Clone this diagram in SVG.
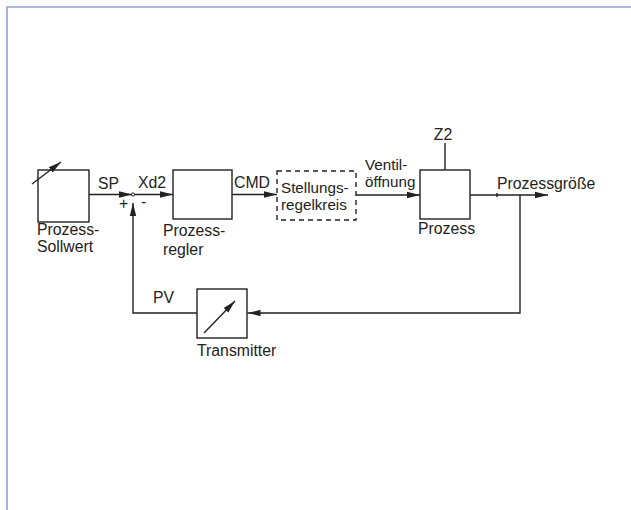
<svg xmlns="http://www.w3.org/2000/svg" width="631" height="510" viewBox="0 0 631 510">
<style>
.frame{fill:none;stroke:#8fa5cd;stroke-width:1.6}
.box{fill:none;stroke:#222;stroke-width:1.4}
.dash{fill:none;stroke:#222;stroke-width:1.4;stroke-dasharray:5,4}
.ln{fill:none;stroke:#222;stroke-width:1.4}
.arr{fill:none;stroke:#222;stroke-width:1.4;marker-end:url(#ah)}
text{font-family:"Liberation Sans",Arial,sans-serif;font-size:15.8px;fill:#222}
.tight{font-size:15.2px}
</style>
<defs>
<marker id="ah" markerUnits="userSpaceOnUse" markerWidth="14" markerHeight="8" refX="13" refY="4" orient="auto">
<path d="M0,0.8 L13,4 L0,7.2 Z" fill="#222"/>
</marker>
</defs>
<rect width="631" height="510" fill="#fff"/>
<path class="frame" d="M7,510 V7 H631"/>

<g id="sollwert">
<rect class="box" x="38" y="170" width="51" height="52"/>
<line class="arr" x1="32" y1="184" x2="61" y2="162"/>
<text x="37" y="235">Prozess-</text>
<text x="37" y="252">Sollwert</text>
</g>

<g id="summing">
<circle cx="133" cy="194.5" r="1.6" fill="#fff" stroke="#222" stroke-width="1"/>
<text x="119" y="209">+</text>
<text x="141" y="207">-</text>
</g>

<g id="prozessregler">
<rect class="box" x="173" y="170" width="59" height="49"/>
<text x="163" y="236">Prozess-</text>
<text x="163" y="255">regler</text>
</g>

<g id="stellungsregelkreis">
<rect class="dash" x="277" y="171" width="79" height="49"/>
<text class="tight" x="281" y="193">Stellungs-</text>
<text class="tight" x="281" y="210">regelkreis</text>
</g>

<g id="prozess">
<rect class="box" x="420" y="170" width="50" height="49"/>
<text x="418" y="234">Prozess</text>
</g>

<g id="transmitter">
<rect class="box" x="197" y="289" width="50" height="49"/>
<line class="arr" x1="204" y1="333" x2="235" y2="301"/>
<text x="197" y="356">Transmitter</text>
</g>

<g id="z2">
<text x="443" y="140" text-anchor="middle">Z2</text>
</g>

<g id="connectors">
<line class="arr" x1="89" y1="194.5" x2="132" y2="194.5"/>
<line class="arr" x1="134.5" y1="194.5" x2="173" y2="194.5"/>
<line class="arr" x1="232" y1="194.5" x2="277" y2="194.5"/>
<line class="arr" x1="356" y1="195" x2="420" y2="195"/>
<line class="ln" x1="445" y1="143" x2="445" y2="170"/>
<line class="arr" x1="470" y1="195" x2="548" y2="195"/>
<polyline class="ln" points="520,195 520,313 260,313"/>
<line class="arr" x1="260" y1="313" x2="247.5" y2="313"/>
<polyline class="ln" points="197,313 133,313 133,212"/>
<line class="arr" x1="133" y1="214" x2="133" y2="203"/>
<line class="ln" x1="497" y1="193" x2="497" y2="197" stroke-width="1"/>
<text x="98" y="189">SP</text>
<text x="138" y="188">Xd2</text>
<text x="234" y="188">CMD</text>
<text class="tight" x="365" y="170">Ventil-</text>
<text class="tight" x="365" y="187">öffnung</text>
<text x="497" y="189">Prozessgröße</text>
<text x="153" y="303">PV</text>
</g>
</svg>
